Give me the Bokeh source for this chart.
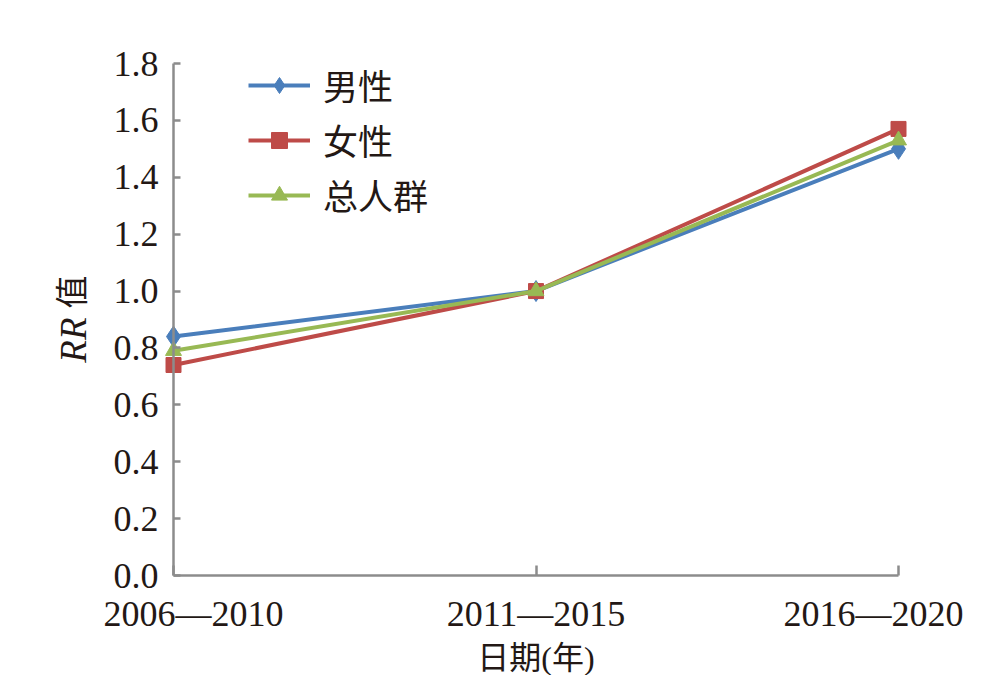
from bokeh.plotting import figure
from bokeh.models import FixedTicker, Range1d, Legend, LegendItem, Label, PrintfTickFormatter
from bokeh.embed import file_html
from bokeh.resources import INLINE
import math

categories = ["2006—2010", "2011—2015", "2016—2020"]
male = [0.84, 1.00, 1.50]
female = [0.74, 1.00, 1.57]
total = [0.79, 1.00, 1.53]
series_names = ["男性", "女性", "总人群"]
y_ticks = [0.0, 0.2, 0.4, 0.6, 0.8, 1.0, 1.2, 1.4, 1.6, 1.8]
x_title = "日期(年)"
y_title_italic = "RR"
y_title_rest = "值"

FONT = "'Liberation Serif', 'Noto Sans CJK SC', serif"
TXT = "#231815"
AX = "#8c8c8c"

W, H = 977, 675
# pixel layout of the plotting area (axis origin / ends)
X0_PX, X1_PX = 173, 898
Y0_PX, Y1_PX = 575, 63

xs = list(range(len(categories)))
ymax = y_ticks[-1]
xppu = (X1_PX - X0_PX) / (len(categories) - 1)
yppu = (Y0_PX - Y1_PX) / ymax
x_range = Range1d(-X0_PX / xppu, (len(categories) - 1) + (W - X1_PX) / xppu)
y_range = Range1d(-(H - Y0_PX) / yppu, ymax + Y1_PX / yppu)

def px_to_x(px):
    return (px - X0_PX) / xppu

def px_to_y(py):
    return (Y0_PX - py) / yppu

p = figure(width=W, height=H, output_backend="svg", toolbar_location=None,
           x_range=x_range, y_range=y_range,
           min_border_left=0, min_border_right=0, min_border_top=0, min_border_bottom=0)
p.outline_line_color = None
p.xgrid.visible = False
p.ygrid.visible = False
p.background_fill_color = "white"

colors = ["#4a7ebb", "#be4b48", "#98b954"]
markers = ["diamond", "square", "triangle"]
sizes = [21, 15, 16]
items = []
for vals, name, c, m, s in zip([male, female, total], series_names, colors, markers, sizes):
    l = p.line(xs, vals, line_color=c, line_width=4)
    sc = p.scatter(xs, vals, marker=m, size=s, fill_color=c, line_color=c)
    items.append(LegendItem(label=name, renderers=[l, sc]))

legend = Legend(items=items, location=(248, 455), border_line_color=None,
                background_fill_alpha=0, padding=0, margin=0, spacing=4,
                glyph_width=62, glyph_height=40, label_standoff=13,
                label_text_font=FONT, label_text_font_size="35px", label_text_color=TXT)
p.add_layout(legend)

# x axis: line + ticks only, fixed at y=0
xa = p.xaxis[0]
xa.fixed_location = 0
xa.bounds = (0, len(categories) - 1)
xa.ticker = FixedTicker(ticks=xs)
xa.axis_line_color = AX
xa.axis_line_width = 2.5
xa.major_tick_line_color = AX
xa.major_tick_line_width = 2.5
xa.major_tick_in = 10
xa.major_tick_out = 0
xa.minor_tick_line_color = None
xa.major_label_text_alpha = 0
xa.major_label_text_font_size = "1px"

# category labels (kept inside the chart width, as in the original)
label_shift = [20, 0, -25]
for xi, cat, dx in zip(xs, categories, label_shift):
    p.add_layout(Label(x=xi, y=px_to_y(613), x_offset=dx, text=cat,
                       text_align="center", text_baseline="middle",
                       text_font=FONT, text_font_size="36px", text_color=TXT))
p.add_layout(Label(x=(len(categories) - 1) / 2, y=px_to_y(657), text=x_title,
                   text_align="center", text_baseline="middle",
                   text_font=FONT, text_font_size="32px", text_color=TXT))

# y axis fixed at x=0
ya = p.yaxis[0]
ya.fixed_location = 0
ya.bounds = (0, ymax)
ya.ticker = FixedTicker(ticks=y_ticks)
ya.formatter = PrintfTickFormatter(format="%.1f")
ya.axis_line_color = AX
ya.axis_line_width = 2.5
ya.major_tick_line_color = AX
ya.major_tick_line_width = 2.5
ya.major_tick_in = 7
ya.major_tick_out = 0
ya.minor_tick_line_color = None
ya.major_label_text_font = FONT
ya.major_label_text_font_size = "36px"
ya.major_label_text_color = TXT
ya.major_label_standoff = 15

# y-axis title "RR 值" (RR italic)
p.add_layout(Label(x=px_to_x(73), y=px_to_y(317), text=y_title_italic,
                   angle=math.pi / 2, text_align="right", text_baseline="middle",
                   text_font=FONT, text_font_style="italic", text_font_size="37px",
                   text_color=TXT))
p.add_layout(Label(x=px_to_x(72), y=px_to_y(308), text=y_title_rest,
                   angle=math.pi / 2, text_align="left", text_baseline="middle",
                   text_font=FONT, text_font_size="33px", text_color=TXT))

open("out.html", "w").write(file_html(p, INLINE))
